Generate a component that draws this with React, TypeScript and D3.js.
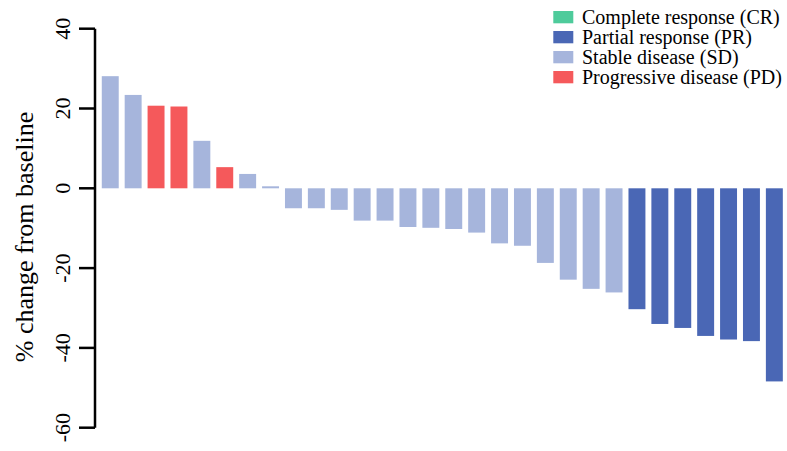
import React from "react";
import * as d3 from "d3";

const patients = d3.range(1, 31).map((i) => `P${i}`);
const changes = [
  28.1, 23.4, 20.7, 20.5, 11.9, 5.3, 3.6, 0.5, -5.0, -5.0, -5.4, -8.1, -8.1, -9.7, -9.9,
  -10.2, -11.1, -13.8, -14.4, -18.7, -22.9, -25.2, -26.1, -30.3, -34.0, -35.0, -37.0,
  -37.9, -38.3, -48.4,
];
const responses = [
  "SD", "SD", "PD", "PD", "SD", "PD", "SD", "SD", "SD", "SD", "SD", "SD", "SD", "SD", "SD",
  "SD", "SD", "SD", "SD", "SD", "SD", "SD", "SD", "PR", "PR", "PR", "PR", "PR", "PR", "PR",
];
const legendKeys = ["CR", "PR", "SD", "PD"];
const legendLabels = [
  "Complete response (CR)",
  "Partial response (PR)",
  "Stable disease (SD)",
  "Progressive disease (PD)",
];
const yTicks = [-60, -40, -20, 0, 20, 40];
const colors: Record<string, string> = {
  CR: "#4ecb9b",
  PR: "#4a67b5",
  SD: "#a6b5dc",
  PD: "#f5595b",
};

const W = 787;
const H = 451;

export default function App() {
  const y = d3.scaleLinear().domain([-60, 40]).range([427.7, 28.7]);
  const x = d3
    .scaleBand()
    .domain(patients)
    .range([98.8, 785.8])
    .paddingInner(0.26)
    .paddingOuter(0.13);
  const axisX = 95;
  const fontStyle = {
    fontFamily:
      '"Liberation Serif", Tinos, "Times New Roman", Times, "Nimbus Roman", "Noto Serif", "DejaVu Serif", FreeSerif, serif',
  };
  return (
    <svg
      width={W}
      height={H}
      style={{ position: "absolute", left: 0, top: 0, background: "#fff" }}
    >
      {patients.map((p, i) => {
        const v = changes[i];
        const y0 = y(0);
        const y1 = y(v);
        return (
          <rect
            key={p}
            x={x(p)}
            width={x.bandwidth()}
            y={Math.min(y0, y1)}
            height={Math.abs(y1 - y0)}
            fill={colors[responses[i]]}
          />
        );
      })}
      <line x1={axisX} x2={axisX} y1={y(-60)} y2={y(40)} stroke="#000" strokeWidth={2.5} />
      {yTicks.map((t) => (
        <g key={t}>
          <line x1={axisX - 16} x2={axisX} y1={y(t)} y2={y(t)} stroke="#000" strokeWidth={2.5} />
          <text
            transform={`translate(${70},${y(t)}) rotate(-90)`}
            textAnchor="middle"
            style={fontStyle}
            fontSize={22}
            fill="#000"
          >
            {t}
          </text>
        </g>
      ))}
      <text
        transform={`translate(${33},${237}) rotate(-90)`}
        textAnchor="middle"
        style={fontStyle}
        fontSize={26}
        fill="#000"
      >
        % change from baseline
      </text>
      {legendKeys.map((k, i) => (
        <g key={k}>
          <rect x={553.3} y={11 + i * 20} width={20} height={12.3} fill={colors[k]} />
          <text
            x={582}
            y={17.2 + i * 20}
            dy="0.35em"
            style={fontStyle}
            fontSize={20}
            fill="#000"
          >
            {legendLabels[i]}
          </text>
        </g>
      ))}
    </svg>
  );
}
